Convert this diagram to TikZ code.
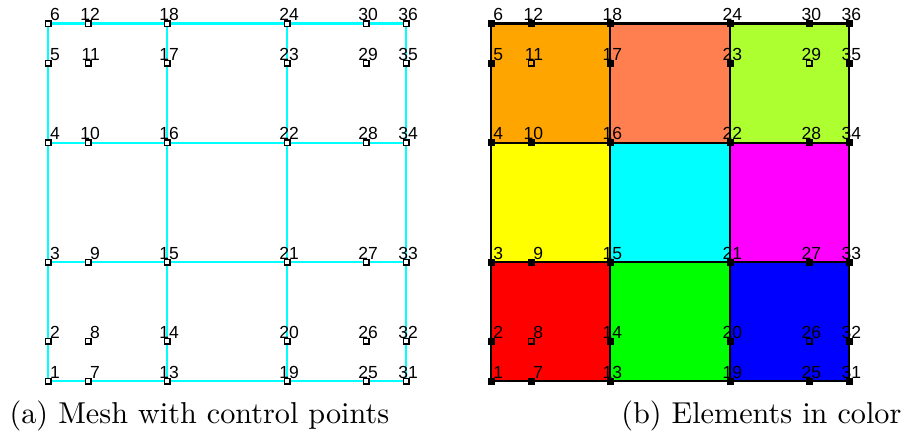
\documentclass[tikz,border=0pt]{standalone}
\usepackage{fontspec}
\newfontfamily\labelfont{Liberation Sans}
\definecolor{cyan}{RGB}{0,255,255}
\definecolor{magenta}{RGB}{255,0,255}
\definecolor{yellow}{RGB}{255,255,0}
\definecolor{coral}{RGB}{255,127,80}
\definecolor{greenyellow}{RGB}{173,255,47}
\definecolor{orangec}{RGB}{255,165,0}

\begin{document}
\begin{tikzpicture}[
    x=1pt, y=-1pt,
    meshline/.style={cyan, line width=2.2pt},
    elemline/.style={black, line width=2.2pt},
    ctrl/.style={draw=black, fill=white, line width=1.5pt, minimum size=5.5pt, inner sep=0pt, rectangle},
    ctrlfull/.style={draw=black, fill=black, line width=1.5pt, minimum size=5.5pt, inner sep=0pt, rectangle},
    lbl/.style={font=\labelfont\fontsize{17.5}{20}\selectfont, inner sep=0pt, anchor=base east, xshift=12pt, yshift=3pt},
    caption/.style={font=\fontsize{10}{12}\selectfont, scale=3.02, inner sep=0pt}
]
\useasboundingbox (0,0) rectangle (908,439);

% Control points of both panels
\foreach \x [count=\i] in {48,88,167,287,366,406}
  \foreach \y [count=\j] in {381,341,262,142.7,63,23.5} {
    \pgfmathtruncatemacro\n{6*(\i-1)+\j}
    \coordinate (p\n) at (\x,\y);
    \coordinate (q\n) at (\x+443.3,\y);
  }

% Elements in color
\fill[red] (q1) rectangle (q15);
\fill[green] (q13) rectangle (q21);
\fill[blue] (q19) rectangle (q33);
\fill[yellow] (q3) rectangle (q16);
\fill[cyan] (q15) rectangle (q22);
\fill[magenta] (q21) rectangle (q34);
\fill[orangec] (q4) rectangle (q18);
\fill[coral] (q16) rectangle (q24);
\fill[greenyellow] (q22) rectangle (q36);

% Mesh lines
\foreach \a/\b in {1/6,13/18,19/24,31/36,1/31,3/33,4/34,6/36} {
  \draw[meshline] (p\a) -- (p\b);
  \draw[elemline] (q\a) -- (q\b);
}

% Markers and labels
\foreach \n in {1,...,36} {
  \node[ctrl] (mp\n) at (p\n) {};
  \node[lbl] (lp\n) at (p\n) {\n};
}
\foreach \n in {1,...,7,9,10,12,13,...,25,27,28,30,31,...,36}
  \node[ctrlfull] (mq\n) at (q\n) {};
\foreach \n in {8,11,26,29}
  \node[ctrl, fill=none] (mq\n) at (q\n) {};
\foreach \n in {1,...,36}
  \node[lbl] (lq\n) at (q\n) {\n};

% Captions
\node[caption, anchor=base west] (capa) at (9,423) {(a) Mesh with control points};
\node[caption, anchor=base east] (capb) at (902,423) {(b) Elements in color};

\end{tikzpicture}
\end{document}
